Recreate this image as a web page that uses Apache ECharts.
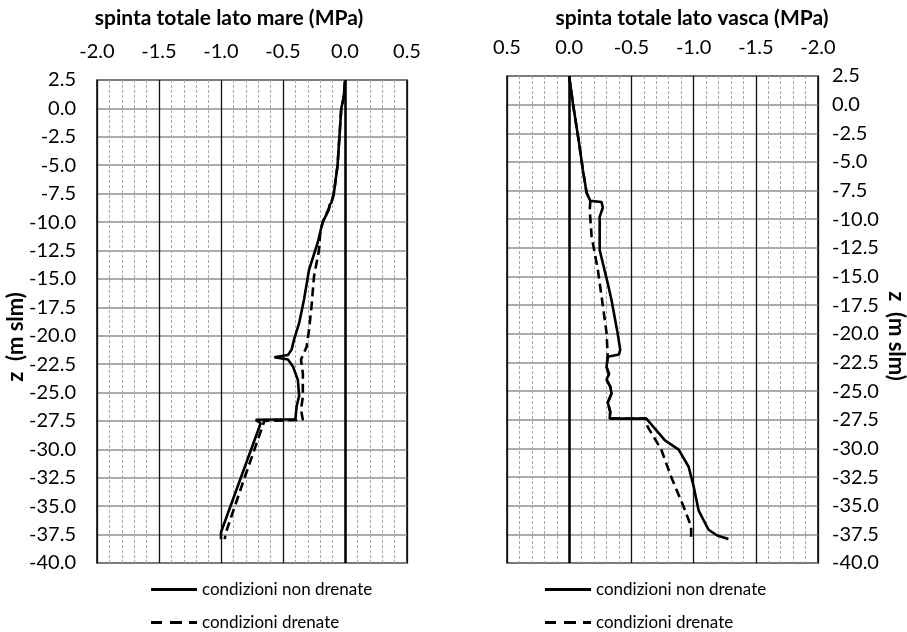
<!DOCTYPE html>
<html>
<head>
<meta charset="utf-8">
<script src="https://cdn.jsdelivr.net/npm/echarts@6/dist/echarts.min.js"></script>
<style>
html,body{margin:0;padding:0;background:#fff;}
#chart{width:907px;height:632px;}
</style>
</head>
<body>
<div id="chart"></div>
<script>
// ---- DATA: [spinta (MPa), z (m slm)] ----
const seriesNames = ['condizioni non drenate', 'condizioni drenate'];
const titleMare = 'spinta totale lato mare (MPa)';
const titleVasca = 'spinta totale lato vasca (MPa)';
const yAxisName = 'z  (m slm)';

const mareNonDrenate = [
  [0.00, 2.4], [-0.01, 1.0], [-0.03, 0.0], [-0.045, -2.5], [-0.06, -5.0], [-0.09, -7.5],
  [-0.11, -8.3], [-0.125, -8.5], [-0.13, -8.9], [-0.18, -10.0], [-0.22, -11.8], [-0.29, -14.2],
  [-0.33, -16.8], [-0.37, -18.9], [-0.41, -20.3], [-0.43, -21.2], [-0.46, -21.7],
  [-0.57, -21.9], [-0.46, -22.1], [-0.42, -22.7], [-0.38, -23.9], [-0.37, -25.3],
  [-0.39, -26.2], [-0.40, -27.35], [-0.72, -27.4], [-0.68, -27.7], [-0.84, -32.5],
  [-1.00, -37.3], [-1.00, -37.9]
];
const mareDrenate = [
  [0.00, 2.4], [-0.01, 1.0], [-0.03, 0.0], [-0.045, -2.5], [-0.06, -5.0], [-0.09, -7.5],
  [-0.11, -8.3], [-0.18, -10.0], [-0.20, -11.0], [-0.21, -12.5], [-0.25, -14.8],
  [-0.27, -17.4], [-0.29, -19.5], [-0.31, -21.0], [-0.355, -22.1], [-0.34, -23.3],
  [-0.34, -25.4], [-0.355, -26.5], [-0.34, -27.4], [-0.65, -27.5], [-0.81, -32.5],
  [-0.96, -37.3], [-0.97, -37.9]
];
const vascaNonDrenate = [
  [0.00, 2.45], [-0.03, 0.1], [-0.08, -3.4], [-0.11, -5.7], [-0.14, -7.7], [-0.17, -8.4],
  [-0.26, -8.5], [-0.27, -9.0], [-0.245, -9.8], [-0.245, -12.7], [-0.31, -15.6],
  [-0.34, -17.05], [-0.38, -19.4], [-0.39, -20.0], [-0.41, -21.4], [-0.40, -21.8],
  [-0.31, -22.0], [-0.30, -22.9], [-0.32, -23.5], [-0.30, -24.0], [-0.33, -24.6],
  [-0.34, -25.2], [-0.31, -26.0], [-0.33, -26.8], [-0.325, -27.4], [-0.62, -27.4],
  [-0.77, -29.3], [-0.88, -30.1], [-0.96, -31.6], [-1.00, -33.3], [-1.04, -35.4],
  [-1.12, -37.1], [-1.19, -37.6], [-1.28, -37.9]
];
const vascaDrenate = [
  [0.00, 2.45], [-0.03, 0.1], [-0.08, -3.4], [-0.11, -5.7], [-0.14, -7.7], [-0.17, -8.4],
  [-0.165, -9.2], [-0.18, -11.5], [-0.23, -14.4], [-0.27, -17.5], [-0.30, -19.9],
  [-0.31, -22.0], [-0.30, -22.9], [-0.32, -23.5], [-0.30, -24.0], [-0.33, -24.6],
  [-0.34, -25.2], [-0.31, -26.0], [-0.33, -26.8], [-0.325, -27.4], [-0.62, -27.4],
  [-0.63, -28.1], [-0.74, -30.1], [-0.82, -32.5], [-0.92, -35.1], [-0.98, -36.8],
  [-0.98, -38.0]
];

// ---- CHART ----
const FONT = 'Lato';
const TICK = 20;
const chart = echarts.init(document.getElementById('chart'), null, {renderer: 'canvas'});

function xAxisCfg(gridIndex, inverse) {
  return {
    gridIndex: gridIndex, type: 'value', position: 'top', min: -2, max: 0.5, interval: 0.5,
    inverse: inverse,
    axisLine: {show: false}, axisTick: {show: false},
    axisLabel: {fontFamily: FONT, fontSize: TICK, color: '#000', margin: 18,
      formatter: v => v.toFixed(1)},
    splitLine: {show: true, lineStyle: {color: '#111', width: 1.3}},
    minorTick: {show: false, splitNumber: 5},
    minorSplitLine: {show: true, lineStyle: {color: '#a8a8a8', width: 1, type: [3, 2]}}
  };
}
function yAxisCfg(gridIndex, pos, margin) {
  return {
    gridIndex: gridIndex, type: 'value', position: pos, min: -40, max: 2.5, interval: 2.5,
    axisLine: {show: false}, axisTick: {show: false},
    axisLabel: {fontFamily: FONT, fontSize: TICK, color: '#000', margin: margin,
      formatter: v => v.toFixed(1)},
    splitLine: {show: true, lineStyle: {color: '#909090', width: 1.6}}
  };
}
function lineSeries(name, data, idx, dashed, withZero) {
  const s = {
    name: name, type: 'line', data: data, xAxisIndex: idx, yAxisIndex: idx,
    symbol: 'none', showSymbol: false, smooth: false, animation: false, z: 5,
    lineStyle: {color: '#000', width: 2.6, type: dashed ? [9, 5] : 'solid'},
    itemStyle: {color: '#000'}
  };
  if (withZero) {
    s.markLine = {
      silent: true, symbol: ['none', 'none'], animation: false,
      label: {show: false},
      lineStyle: {color: '#000', width: 2.5, type: 'solid'},
      data: [{xAxis: 0}]
    };
  }
  return s;
}
const ICON_SOLID = 'rect';
const ICON_DASH = 'path://M0,0h11v3h-11z M19,0h12v3h-12z M38,0h8v3h-8z';
function legendCfg(name, icon, left, top) {
  return {
    data: [{name: name, icon: icon}], orient: 'vertical', left: left, top: top,
    itemWidth: 46, itemHeight: 3, padding: 0, selectedMode: false,
    itemStyle: {color: '#000', borderWidth: 0},
    lineStyle: {width: 0},
    textStyle: {fontFamily: FONT, fontSize: 17, color: '#000'}
  };
}

const option = {
  backgroundColor: '#fff',
  animation: false,
  grid: [
    {left: 97, top: 80, width: 310, height: 483, show: true, borderColor: '#000', borderWidth: 1.5, backgroundColor: 'transparent'},
    {left: 507, top: 76, width: 311, height: 487, show: true, borderColor: '#000', borderWidth: 1.5, backgroundColor: 'transparent'}
  ],
  xAxis: [xAxisCfg(0, false), xAxisCfg(1, true)],
  yAxis: [yAxisCfg(0, 'left', 21), yAxisCfg(1, 'right', 14)],
  legend: [
    legendCfg(seriesNames[0], ICON_SOLID, 151, 581),
    legendCfg(seriesNames[1], ICON_DASH, 151, 614),
    legendCfg(seriesNames[0], ICON_SOLID, 545, 581),
    legendCfg(seriesNames[1], ICON_DASH, 545, 614)
  ],
  graphic: [
    {type: 'text', x: 229, y: 18, style: {text: titleMare, fontFamily: FONT, fontWeight: 'bold', fontSize: 21, fill: '#000', align: 'center', verticalAlign: 'middle'}},
    {type: 'text', x: 692, y: 18, style: {text: titleVasca, fontFamily: FONT, fontWeight: 'bold', fontSize: 21, fill: '#000', align: 'center', verticalAlign: 'middle'}},
    {type: 'text', x: 16, y: 337, rotation: Math.PI / 2, style: {text: yAxisName, fontFamily: FONT, fontWeight: 'bold', fontSize: 22, fill: '#000', align: 'center', verticalAlign: 'middle'}},
    {type: 'text', x: 896, y: 336, rotation: -Math.PI / 2, style: {text: yAxisName, fontFamily: FONT, fontWeight: 'bold', fontSize: 22, fill: '#000', align: 'center', verticalAlign: 'middle'}}
  ],
  series: [
    lineSeries(seriesNames[0], mareNonDrenate, 0, false, true),
    lineSeries(seriesNames[1], mareDrenate, 0, true, false),
    lineSeries(seriesNames[0], vascaNonDrenate, 1, false, true),
    lineSeries(seriesNames[1], vascaDrenate, 1, true, false)
  ]
};
chart.setOption(option);
</script>
</body>
</html>
